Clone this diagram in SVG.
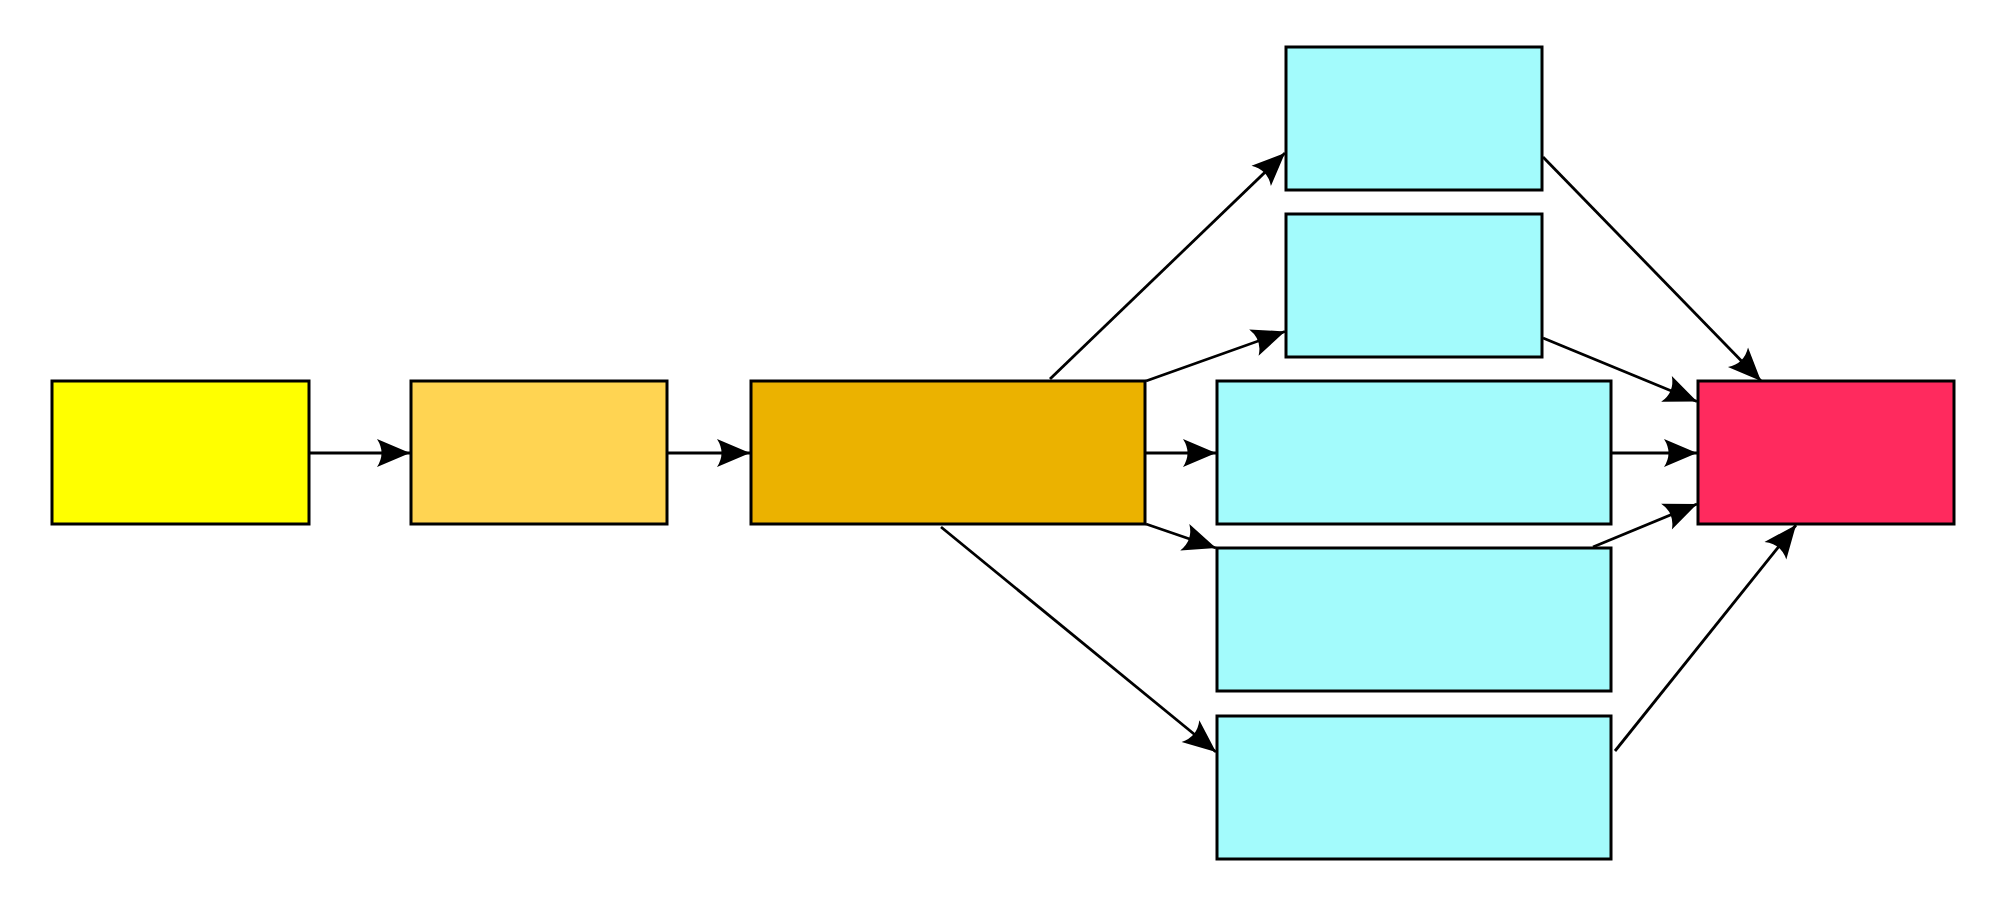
<svg xmlns="http://www.w3.org/2000/svg" width="2000" height="910" viewBox="0 0 2000 910">
<style>
.n{stroke:#000;stroke-width:3}
.e{fill:none;stroke:#000;stroke-width:2.8;marker-end:url(#ah)}
</style>
<defs>
<marker id="ah" markerUnits="userSpaceOnUse" markerWidth="40" markerHeight="34" viewBox="-36 -17 38 34" refX="0" refY="0" orient="auto">
<path d="M0,0 L-33,-14 Q-24,0 -33,14 Z" fill="#000"/>
</marker>
</defs>
<rect width="2000" height="910" fill="#fff"/>
<g id="connectors">
<line class="e" x1="309" y1="453" x2="410" y2="453"/>
<line class="e" x1="667" y1="453" x2="750" y2="453"/>
<line class="e" x1="1050" y1="379" x2="1285" y2="153"/>
<line class="e" x1="1146" y1="381" x2="1285" y2="331.5"/>
<line class="e" x1="1146" y1="453" x2="1216" y2="453"/>
<line class="e" x1="1146" y1="524" x2="1216" y2="548"/>
<line class="e" x1="941" y1="527" x2="1216" y2="752"/>
<line class="e" x1="1543" y1="157" x2="1761" y2="381"/>
<line class="e" x1="1543" y1="338" x2="1697" y2="401.5"/>
<line class="e" x1="1611" y1="453" x2="1697" y2="453"/>
<line class="e" x1="1593" y1="547" x2="1697" y2="504"/>
<line class="e" x1="1615" y1="751" x2="1796" y2="525"/>
</g>
<g id="n1"><rect class="n" x="52" y="381" width="257" height="143" fill="#ffff00"/></g>
<g id="n2"><rect class="n" x="411" y="381" width="256" height="143" fill="#ffd452"/></g>
<g id="n3"><rect class="n" x="751" y="381" width="394" height="143" fill="#ebb200"/></g>
<g id="n4"><rect class="n" x="1286" y="47" width="256" height="143" fill="#a3fbfc"/></g>
<g id="n5"><rect class="n" x="1286" y="214" width="256" height="143" fill="#a3fbfc"/></g>
<g id="n6"><rect class="n" x="1217" y="381" width="394" height="143" fill="#a3fbfc"/></g>
<g id="n7"><rect class="n" x="1217" y="548" width="394" height="143" fill="#a3fbfc"/></g>
<g id="n8"><rect class="n" x="1217" y="716" width="394" height="143" fill="#a3fbfc"/></g>
<g id="n9"><rect class="n" x="1698" y="381" width="256" height="143" fill="#ff2a5e"/></g>
</svg>
